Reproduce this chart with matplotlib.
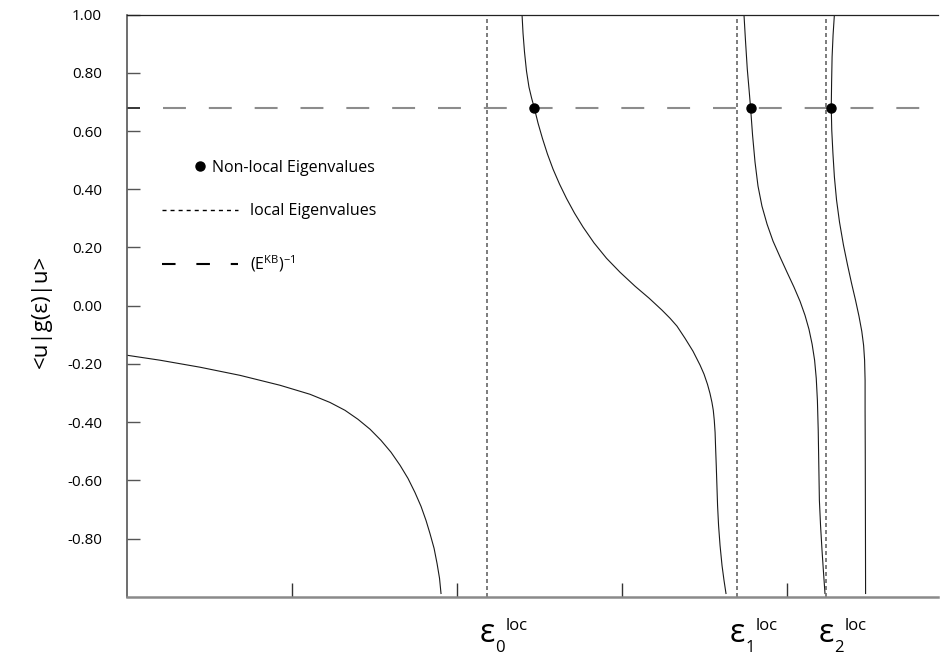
import matplotlib
matplotlib.use('Agg')
import matplotlib.pyplot as plt
from matplotlib.lines import Line2D

plt.rcParams['font.family'] = ['Open Sans', 'DejaVu Sans']
plt.rcParams['mathtext.fontset'] = 'custom'
plt.rcParams['mathtext.rm'] = 'Open Sans'
plt.rcParams['mathtext.it'] = 'Open Sans:italic'

# <u|g(e)|u> branches between the poles (energy in arbitrary units)
branch0_x = [0.000, 0.200, 0.442, 0.685, 0.927, 1.109, 1.230, 1.321, 1.400, 1.473,
             1.539, 1.600, 1.655, 1.703, 1.745, 1.782, 1.812, 1.836, 1.861, 1.879,
             1.894, 1.903]
branch0_y = [-0.170, -0.187, -0.211, -0.239, -0.273, -0.304, -0.332, -0.359, -0.390, -0.424,
             -0.462, -0.503, -0.548, -0.593, -0.641, -0.689, -0.737, -0.782, -0.833, -0.885,
             -0.936, -0.988]

branch1_x = [2.394, 2.400, 2.409, 2.421, 2.436, 2.452, 2.468, 2.491, 2.518, 2.548,
             2.582, 2.621, 2.664, 2.712, 2.764, 2.830, 2.906, 2.988, 3.079, 3.164,
             3.242, 3.291, 3.333, 3.382, 3.430, 3.473, 3.497, 3.518, 3.533, 3.545,
             3.553, 3.559, 3.564, 3.567, 3.571, 3.575, 3.579, 3.585, 3.594, 3.606,
             3.618, 3.630]
branch1_y = [1.000, 0.936, 0.871, 0.806, 0.751, 0.713, 0.680, 0.627, 0.574, 0.521,
             0.469, 0.418, 0.368, 0.318, 0.270, 0.216, 0.163, 0.115, 0.067, 0.026,
             -0.015, -0.043, -0.070, -0.112, -0.156, -0.204, -0.235, -0.270, -0.301, -0.332,
             -0.359, -0.393, -0.435, -0.486, -0.548, -0.617, -0.686, -0.754, -0.823, -0.892,
             -0.943, -0.988]

branch2_x = [3.739, 3.748, 3.759, 3.770, 3.779, 3.791, 3.806, 3.824, 3.848, 3.879,
             3.915, 3.958, 4.000, 4.042, 4.079, 4.109, 4.133, 4.152, 4.167, 4.177,
             4.184, 4.189, 4.193, 4.196, 4.203, 4.212, 4.221, 4.230]
branch2_y = [1.000, 0.912, 0.813, 0.741, 0.680, 0.586, 0.493, 0.411, 0.342, 0.280,
             0.222, 0.167, 0.115, 0.064, 0.015, -0.033, -0.081, -0.132, -0.187, -0.249,
             -0.325, -0.428, -0.565, -0.668, -0.754, -0.840, -0.916, -0.988]

branch3_x = [4.287, 4.279, 4.273, 4.270, 4.268, 4.271, 4.278, 4.287, 4.300, 4.318,
             4.342, 4.367, 4.391, 4.415, 4.436, 4.453, 4.464, 4.470, 4.473, 4.473,
             4.474, 4.475, 4.476]
branch3_y = [1.000, 0.930, 0.854, 0.765, 0.680, 0.603, 0.524, 0.442, 0.363, 0.287,
             0.208, 0.139, 0.077, 0.019, -0.036, -0.088, -0.136, -0.187, -0.256, -0.359,
             -0.497, -0.737, -0.988]

# eigenvalues
local_eig = [2.182, 3.697, 4.236]
local_names = ['0', '1', '2']
nonlocal_eig = [2.468, 3.779, 4.268]
E_KB_inv = 0.68
nonlocal_y = [E_KB_inv] * len(nonlocal_eig)

y_ticks = [1.0, 0.8, 0.6, 0.4, 0.2, 0.0, -0.2, -0.4, -0.6, -0.8]
x_ticks = [1, 2, 3, 4]


fig = plt.figure(figsize=(9.4, 6.54), dpi=100)
ax = fig.add_axes([0.1351, 0.0872, 0.8628, 0.8906])

branches = [(branch0_x, branch0_y), (branch1_x, branch1_y),
            (branch2_x, branch2_y), (branch3_x, branch3_y)]
for bx, by in branches:
    ax.plot(bx, by, color='#1a1a1a', lw=0.8)

for e in local_eig:
    ax.axvline(e, color='#666666', lw=1.2, dashes=(2.4, 1.8))

ax.plot([0.22, 4.81], [E_KB_inv, E_KB_inv], color='#8c8c8c', lw=1.5, dashes=(11, 11))
ax.plot(nonlocal_eig, nonlocal_y, 'o', color='k', ms=6.5, zorder=5)

ax.set_xlim(0, 4.915)
ax.set_ylim(-1, 1)

# axes frame
ax.spines['right'].set_visible(False)
ax.spines['top'].set_color('#222222')
ax.spines['top'].set_linewidth(0.9)
ax.spines['left'].set_color('#555555')
ax.spines['left'].set_linewidth(1.2)
ax.spines['bottom'].set_color('#8a8a8a')
ax.spines['bottom'].set_linewidth(1.8)

ax.set_yticks(y_ticks)
ax.set_yticklabels(['%.2f' % v for v in y_ticks])
ax.set_yticks([E_KB_inv], minor=True)
ax.tick_params(axis='y', which='major', direction='in', length=9.5, width=1,
               color='#555555', pad=18, labelsize=11)
ax.tick_params(axis='y', which='minor', direction='in', length=9, width=1.1, color='k')

ax.set_xticks(x_ticks)
ax.set_xticklabels([])
ax.tick_params(axis='x', which='major', direction='in', length=10, width=1, color='#333333')
ax.tick_params(axis='x', which='minor', bottom=False)

# epsilon_n^loc labels under the local eigenvalues
for e, n in zip(local_eig, local_names):
    ax.annotate('\u03b5', xy=(e, 0), xycoords=('data', 'axes fraction'),
                xytext=(0, -32.5), textcoords='offset points',
                ha='center', va='baseline', fontsize=23, annotation_clip=False)
    ax.annotate(n, xy=(e, 0), xycoords=('data', 'axes fraction'),
                xytext=(6.0, -39.5), textcoords='offset points',
                ha='left', va='baseline', fontsize=12, annotation_clip=False)
    ax.annotate('loc', xy=(e, 0), xycoords=('data', 'axes fraction'),
                xytext=(13.5, -23.5), textcoords='offset points',
                ha='left', va='baseline', fontsize=12, annotation_clip=False)

ax.set_ylabel('<u|g(\u03b5)|u>', fontsize=16)
ax.yaxis.set_label_coords(-0.093, 0.49)

# legends
dot_handle = Line2D([], [], ls='none', marker='o', color='k', ms=6.5)
leg1 = ax.legend([dot_handle], ['Non-local Eigenvalues'], loc='center left',
                 bbox_to_anchor=(0.0798, 0.7365), frameon=False, fontsize=11.5,
                 handlelength=1.0, handletextpad=0.3, borderpad=0, borderaxespad=0)
ax.add_artist(leg1)

dot_line = Line2D([], [], color='k', lw=1.0, dashes=(2.9, 2.9))
dash_line = Line2D([], [], color='k', lw=1.5, dashes=(6.5, 10))
ax.legend([dot_line, dash_line], ['local Eigenvalues', r'(E$^{\mathrm{KB}}$)$^{-1}$'],
          loc='center left', bbox_to_anchor=(0.0432, 0.615), frameon=False, fontsize=11.5,
          handlelength=4.75, handletextpad=0.75, labelspacing=2.15,
          borderpad=0, borderaxespad=0)

fig.savefig('out.png', dpi=100)
